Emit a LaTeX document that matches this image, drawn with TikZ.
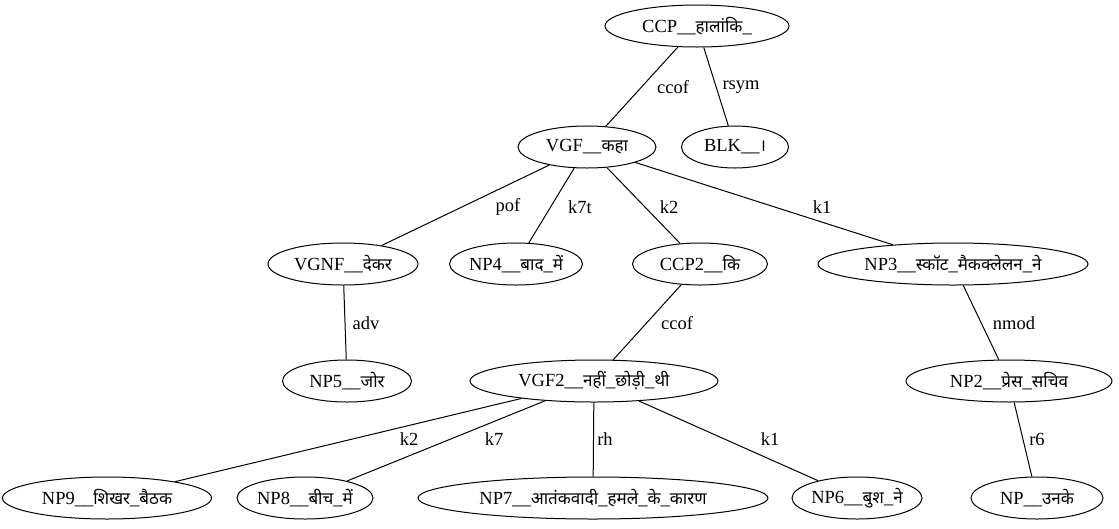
\documentclass[tikz,border=0pt]{standalone}
\usepackage{fontspec}
\setmainfont{Liberation Serif}
\newfontfamily\deva[Script=Devanagari,Scale=0.92]{Noto Sans}
\usetikzlibrary{shapes.geometric}
\newcommand{\hi}[1]{{\deva #1}}
\tikzset{
  tnode/.style={ellipse, draw, line width=1pt, inner sep=0pt, minimum height=42,
    font=\fontsize{18.5}{20}\selectfont},
  elabel/.style={font=\fontsize{18.5}{20}\selectfont, inner sep=0pt},
  link/.style={line width=1pt}
}
\begin{document}
\begin{tikzpicture}[x=1pt,y=-1pt]
\useasboundingbox (0,0) rectangle (1119,528);
% tree nodes
\node[tnode, minimum width=184] (ccp)  at (697,26)  {CCP\_\_\hi{हालांकि}\_};
\node[tnode, minimum width=138] (vgf)  at (587,147) {VGF\_\_\hi{कहा}};
\node[tnode, minimum width=107] (blk)  at (735,147) {BLK\_\_\hi{।}};
\node[tnode, minimum width=150] (vgnf) at (343,264) {VGNF\_\_\hi{देकर}};
\node[tnode, minimum width=132] (np4)  at (516,264) {NP4\_\_\hi{बाद}\_\hi{में}};
\node[tnode, minimum width=135] (ccp2) at (700,264) {CCP2\_\_\hi{कि}};
\node[tnode, minimum width=270] (np3)  at (953,264) {NP3\_\_\hi{स्कॉट}\_\hi{मैकक्लेलन}\_\hi{ने}};
\node[tnode, minimum width=129] (np5)  at (347,381) {NP5\_\_\hi{जोर}};
\node[tnode, minimum width=248] (vgf2) at (594,381) {VGF2\_\_\hi{नहीं}\_\hi{छोड़ी}\_\hi{थी}};
\node[tnode, minimum width=206] (np2)  at (1009,381) {NP2\_\_\hi{प्रेस}\_\hi{सचिव}};
\node[tnode, minimum width=209] (np9)  at (107,498) {NP9\_\_\hi{शिखर}\_\hi{बैठक}};
\node[tnode, minimum width=136] (np8)  at (305,498) {NP8\_\_\hi{बीच}\_\hi{में}};
\node[tnode, minimum width=350] (np7)  at (593,498) {NP7\_\_\hi{आतंकवादी}\_\hi{हमले}\_\hi{के}\_\hi{कारण}};
\node[tnode, minimum width=130] (np6)  at (857,498) {NP6\_\_\hi{बुश}\_\hi{ने}};
\node[tnode, minimum width=132] (np)   at (1037,498) {NP\_\_\hi{उनके}};
% dependency links
\draw[link] (ccp) -- (vgf);
\draw[link] (ccp) -- (blk);
\draw[link] (vgf) -- (vgnf);
\draw[link] (vgf) -- (np4);
\draw[link] (vgf) -- (ccp2);
\draw[link] (vgf) -- (np3);
\draw[link] (vgnf) -- (np5);
\draw[link] (ccp2) -- (vgf2);
\draw[link] (np3) -- (np2);
\draw[link] (vgf2) -- (np9);
\draw[link] (vgf2) -- (np8);
\draw[link] (vgf2) -- (np7);
\draw[link] (vgf2) -- (np6);
\draw[link] (np2) -- (np);
% relation labels
\node[elabel] (l1)  at (673,87)  {ccof};
\node[elabel] (l2)  at (741,87)  {rsym};
\node[elabel] (l3)  at (508,207) {pof};
\node[elabel] (l4)  at (580,207) {k7t};
\node[elabel] (l5)  at (669,207) {k2};
\node[elabel] (l6)  at (822,207) {k1};
\node[elabel] (l7)  at (366,323) {adv};
\node[elabel] (l8)  at (677,323) {ccof};
\node[elabel] (l9)  at (1014,323) {nmod};
\node[elabel] (l10) at (409,439) {k2};
\node[elabel] (l11) at (494,439) {k7};
\node[elabel] (l12) at (605,439) {rh};
\node[elabel] (l13) at (770,439) {k1};
\node[elabel] (l14) at (1037,439) {r6};
\end{tikzpicture}
\end{document}
